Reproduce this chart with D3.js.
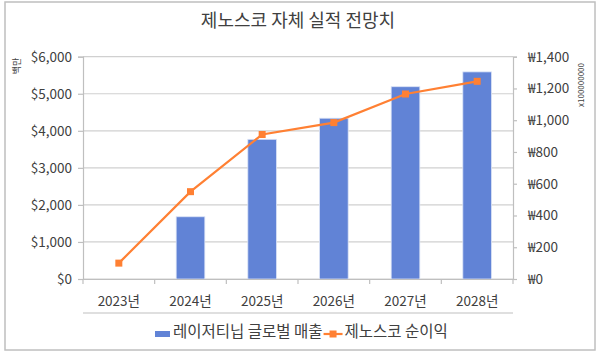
<!DOCTYPE html>
<html>
<head>
<meta charset="utf-8">
<script src="https://cdn.jsdelivr.net/npm/d3@7"></script>
<style>
  body { margin: 0; background: #fff; }
  text { font-family: "Noto Sans CJK KR", sans-serif; fill: #404040; }
</style>
</head>
<body>
<script>
var width = 600
var height = 354

// data
var years = ["2023년", "2024년", "2025년", "2026년", "2027년", "2028년"]
var sales = [null, 1680, 3770, 4340, 5190, 5590]      // 백만 $
var profit = [100, 550, 910, 985, 1165, 1245]         // x100000000 ₩
var leftTicks = [0, 1000, 2000, 3000, 4000, 5000, 6000]
var rightTicks = [0, 200, 400, 600, 800, 1000, 1200, 1400]

var margin = { left: 83, right: 87, top: 56.7, bottom: 75 }

var svg = d3.select("body")
    .append("svg")
    .attr("width", width)
    .attr("height", height);

// outer border
svg.append("rect")
    .attr("x", 5).attr("y", 2)
    .attr("width", 590).attr("height", 348)
    .attr("fill", "#fff")
    .attr("stroke", "#bfbfbf")
    .attr("stroke-width", 1.5)

var x_scale = d3.scaleBand()
    .domain(years)
    .range([margin.left, width - margin.right])
    .paddingInner(0.6)
    .paddingOuter(0.3)

var x_outer = d3.scaleBand()
    .domain(years)
    .range([margin.left, width - margin.right])

var y_left = d3.scaleLinear()
    .domain([0, 6000])
    .range([279, margin.top])

var y_right = d3.scaleLinear()
    .domain([0, 1400])
    .range([279, margin.top])

// gridlines
svg.append("g").selectAll("line")
    .data(leftTicks)
    .enter()
    .append("line")
    .attr("x1", margin.left)
    .attr("x2", width - margin.right)
    .attr("y1", (d) => y_left(d))
    .attr("y2", (d) => y_left(d))
    .attr("stroke", "#d0d0d0")
    .attr("stroke-width", 1.2)

// bars
svg.append("g").selectAll("rect")
    .data(years.map((y, i) => ({ year: y, v: sales[i] })).filter((d) => d.v != null))
    .enter()
    .append("rect")
    .attr("x", (d) => x_scale(d.year))
    .attr("y", (d) => y_left(d.v))
    .attr("width", x_scale.bandwidth())
    .attr("height", (d) => y_left(0) - y_left(d.v))
    .attr("fill", "#6183d6")
    .attr("stroke", "#dbe3f6")
    .attr("stroke-width", 0.8)

// axes
var left_axis = d3.axisLeft(y_left)
    .tickValues(leftTicks)
    .tickSize(5)
    .tickPadding(6)
    .tickFormat((d) => "$" + d3.format(",")(d))

var right_axis = d3.axisRight(y_right)
    .tickValues(rightTicks)
    .tickSize(4)
    .tickPadding(11)
    .tickFormat((d) => "₩" + d3.format(",")(d))

var bottom_axis = d3.axisBottom(x_outer)
    .tickValues([])
    .tickSizeOuter(0)

function styleAxis(g) {
    g.select(".domain").attr("stroke", "#bfbfbf").attr("stroke-width", 1.2)
    g.selectAll(".tick line").attr("stroke", "#bfbfbf").attr("stroke-width", 1.2)
    g.selectAll(".tick text").style("font-size", "13.5px").attr("fill", "#404040")
}

svg.append("g")
    .attr("transform", "translate(" + margin.left + ",0)")
    .call(left_axis)
    .call(styleAxis)

svg.append("g")
    .attr("transform", "translate(" + (width - margin.right) + ",0)")
    .call(right_axis)
    .call(styleAxis)

svg.append("g")
    .attr("transform", "translate(0,279)")
    .call(bottom_axis)
    .call(styleAxis)

// category boundary ticks
svg.append("g").selectAll("line")
    .data(years.concat(["end"]))
    .enter()
    .append("line")
    .attr("x1", (d, i) => margin.left + i * x_outer.step())
    .attr("x2", (d, i) => margin.left + i * x_outer.step())
    .attr("y1", 279)
    .attr("y2", 284)
    .attr("stroke", "#bfbfbf")
    .attr("stroke-width", 1.2)

// category labels
svg.append("g").selectAll("text")
    .data(years)
    .enter()
    .append("text")
    .attr("x", (d) => x_outer(d) + x_outer.bandwidth() / 2)
    .attr("y", 302)
    .attr("text-anchor", "middle")
    .attr("dominant-baseline", "middle")
    .style("font-size", "13.5px")
    .text((d) => d)

svg.append("line")
    .attr("x1", margin.left).attr("x2", width - margin.right)
    .attr("y1", 313).attr("y2", 313)
    .attr("stroke", "#bfbfbf")
    .attr("stroke-width", 1.2)

// line series
var line = d3.line()
    .x((d, i) => x_outer(years[i]) + x_outer.bandwidth() / 2)
    .y((d) => y_right(d))

svg.append("path")
    .datum(profit)
    .attr("d", line)
    .attr("fill", "none")
    .attr("stroke", "#ff8033")
    .attr("stroke-width", 2.2)

svg.append("g").selectAll("rect")
    .data(profit)
    .enter()
    .append("rect")
    .attr("x", (d, i) => x_outer(years[i]) + x_outer.bandwidth() / 2 - 3.5)
    .attr("y", (d) => y_right(d) - 3.5)
    .attr("width", 7)
    .attr("height", 7)
    .attr("fill", "#ff8033")

// title
svg.append("text")
    .attr("x", 298)
    .attr("y", 22)
    .attr("text-anchor", "middle")
    .attr("dominant-baseline", "middle")
    .style("font-size", "18px")
    .text("제노스코 자체 실적 전망치")

// axis unit labels
svg.append("text")
    .attr("transform", "translate(18,66) rotate(-90)")
    .attr("text-anchor", "middle")
    .attr("dominant-baseline", "middle")
    .style("font-size", "9px")
    .text("백만")

svg.append("text")
    .attr("transform", "translate(582,85) rotate(-90)")
    .attr("text-anchor", "middle")
    .attr("dominant-baseline", "middle")
    .style("font-size", "8px")
    .text("x100000000")

// legend
var legend = svg.append("g")
legend.append("rect")
    .attr("x", 155).attr("y", 331)
    .attr("width", 15).attr("height", 6)
    .attr("fill", "#6183d6")
var t1 = legend.append("text")
    .attr("x", 173).attr("y", 333)
    .attr("dominant-baseline", "middle")
    .style("font-size", "15.5px")
    .text("레이저티닙 글로벌 매출")
var lx = 173 + t1.node().getComputedTextLength() + 1
legend.append("line")
    .attr("x1", lx).attr("x2", lx + 19)
    .attr("y1", 334).attr("y2", 334)
    .attr("stroke", "#ff8033")
    .attr("stroke-width", 2.2)
legend.append("rect")
    .attr("x", lx + 6).attr("y", 330.5)
    .attr("width", 7).attr("height", 7)
    .attr("fill", "#ff8033")
legend.append("text")
    .attr("x", lx + 21).attr("y", 333)
    .attr("dominant-baseline", "middle")
    .style("font-size", "15.5px")
    .text("제노스코 순이익")
</script>
</body>
</html>
